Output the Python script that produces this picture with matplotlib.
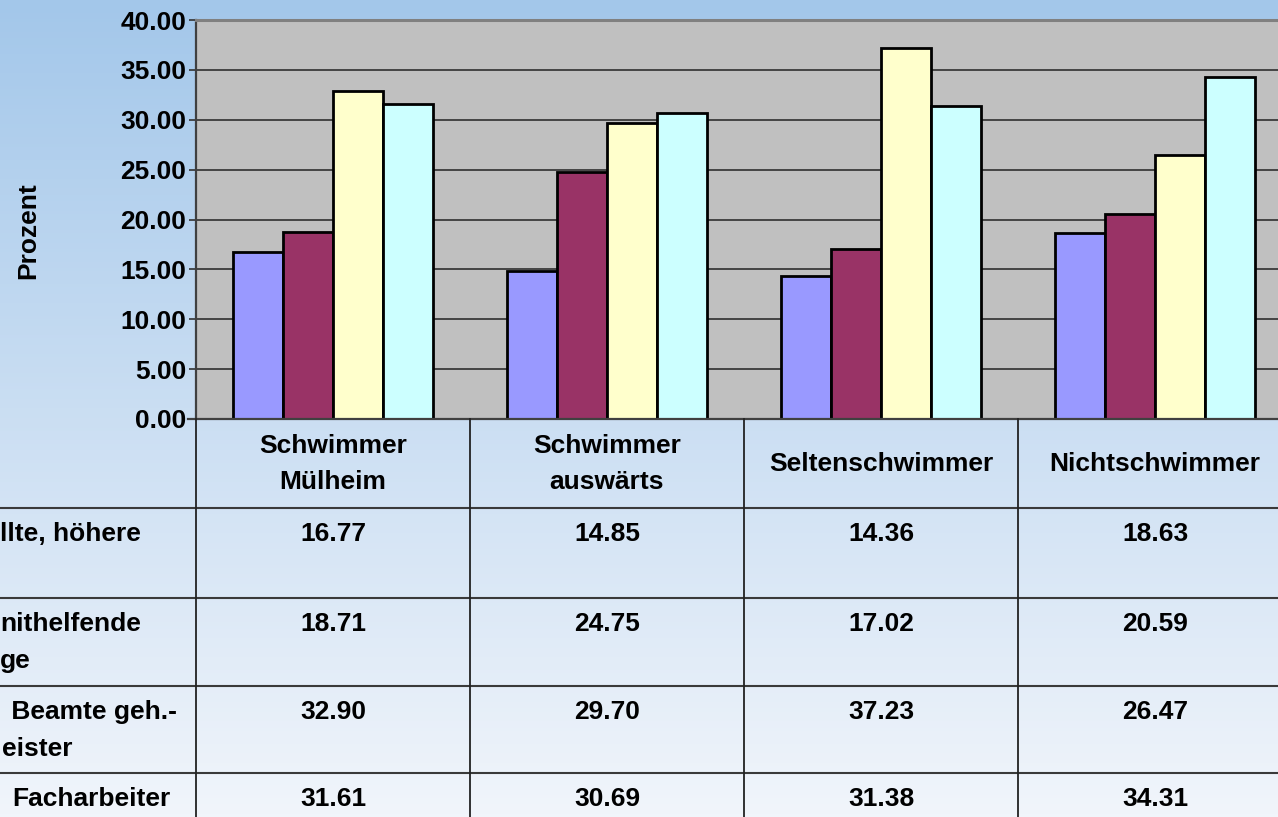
import numpy as np
import matplotlib
matplotlib.use('Agg')
import matplotlib.pyplot as plt
from matplotlib.ticker import FormatStrFormatter

plt.rcParams['font.family'] = ['Liberation Sans', 'DejaVu Sans']
plt.rcParams['font.weight'] = 'bold'

# data
groups = ['Schwimmer\nMülheim', 'Schwimmer\nauswärts', 'Seltenschwimmer', 'Nichtschwimmer']
s1 = [16.77, 14.85, 14.36, 18.63]
s2 = [18.71, 24.75, 17.02, 20.59]
s3 = [32.90, 29.70, 37.23, 26.47]
s4 = [31.61, 30.69, 31.38, 34.31]
series = [s1, s2, s3, s4]
colors = ['#9999FF', '#993366', '#FFFFCC', '#CCFFFF']
# row labels as far as they are visible (cut off at the left edge)
row_labels = [['llte, höhere'], ['nithelfende', 'ge'], [' Beamte geh.-', 'eister'], ['Facharbeiter']]
yticks = np.arange(0, 41, 5)

W, H = 1278, 817
fs = 19
fig = plt.figure(figsize=(W/100, H/100), dpi=100)

### background gradient ###
bg = fig.add_axes([0, 0, 1, 1], zorder=-10)
top = np.array([163, 199, 234])/255.
bot = np.array([241, 245, 251])/255.
f = np.linspace(0, 1, 256)[:, None, None]
grad = top*(1-f) + bot*f
bg.imshow(grad, aspect='auto', extent=[0, 1, 0, 1])
bg.axis('off')

### bars ###
gw = 274.  # px per group
x0 = 196.
ax = fig.add_axes([x0/W, (H-419)/H, 4*gw/W, 399/H])
ax.set_facecolor('#C0C0C0')
bw = 50/gw
xs = np.arange(len(groups)) + 0.5
for k, (vals, c) in enumerate(zip(series, colors)):
    ax.bar(xs + (k-1.5)*bw, vals, width=bw, color=c, edgecolor='black', lw=2, zorder=3)
ax.set_xlim(0, 4)
ax.set_ylim(0, 40)
ax.set_yticks(yticks)
ax.yaxis.set_major_formatter(FormatStrFormatter('%.2f'))
ax.set_xticks([])
ax.yaxis.grid(True, color='#3a3a3a', lw=1.3)
ax.set_axisbelow(True)
ax.tick_params(axis='y', length=5, width=1.2, color='#333333', pad=2, labelsize=fs)
ax.spines['top'].set_color('#808080')
ax.spines['top'].set_linewidth(2.2)
ax.spines['left'].set_color('#404040')
ax.spines['left'].set_linewidth(1.6)
ax.spines['bottom'].set_visible(False)
ax.spines['right'].set_visible(False)
fig.text(28/W, (H-231)/H, 'Prozent', rotation=90, ha='center', va='center', fontsize=fs, fontweight='bold')

### data table ###
tax = fig.add_axes([x0/W, 0, 4*gw/W, 398/H])
tax.set_xlim(0, 4)
tax.set_ylim(398, 0)
tax.axis('off')
row_tops = [89, 179, 267, 354]
left = -x0/gw
tax.plot([-8/gw, 4], [0, 0], color='#404040', lw=1.6, clip_on=False)
for y in row_tops:
    tax.plot([left, 4], [y, y], color='#3a3a3a', lw=1.5, clip_on=False)
for i in range(4):
    tax.plot([i, i], [0, 398], color='#222222', lw=1.3, clip_on=False)

for i, g in enumerate(groups):
    tax.text(i+0.5, 45, g, ha='center', va='center', fontsize=fs, fontweight='bold', linespacing=1.65)

for r, vals in enumerate(series):
    for i, v in enumerate(vals):
        tax.text(i+0.5, row_tops[r]+26, '%.2f' % v, ha='center', va='center', fontsize=fs, fontweight='bold')

label_x = [[0], [0, 0], [4, 2], [12]]
for r, lines in enumerate(row_labels):
    for j, line in enumerate(lines):
        tax.text(left + label_x[r][j]/gw, row_tops[r]+26+j*37, line, ha='left', va='center',
                 fontsize=fs, fontweight='bold', clip_on=False)

plt.savefig('out.png', dpi=100)
